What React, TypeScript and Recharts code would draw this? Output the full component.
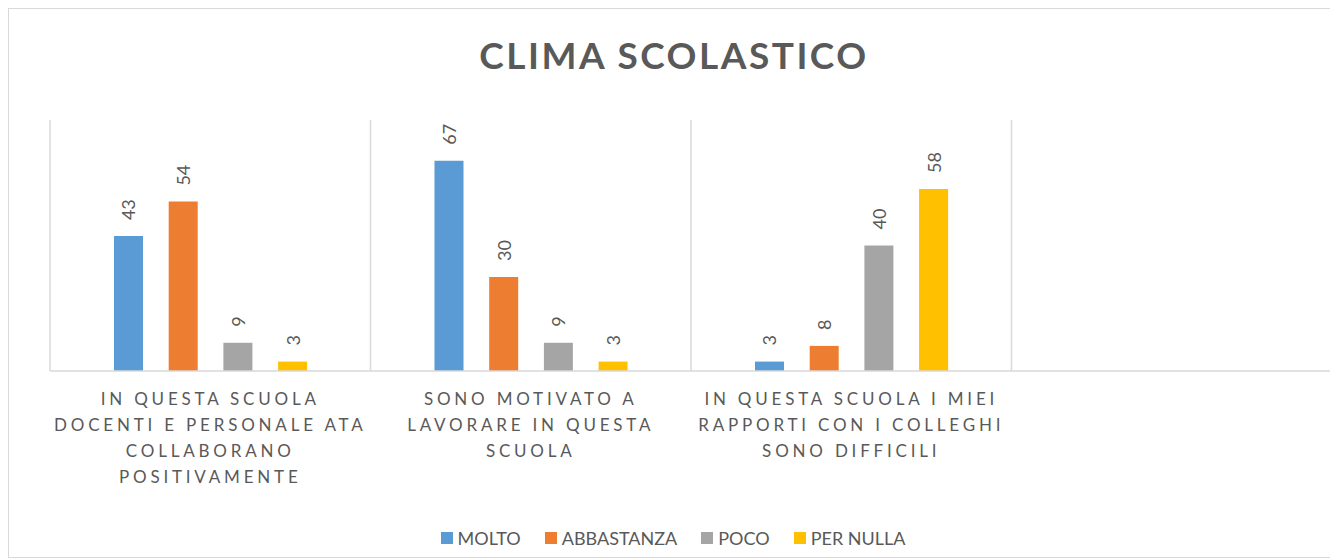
import React from "react";
import { BarChart, Bar, XAxis, YAxis, CartesianGrid, Legend, LabelList } from "recharts";

const categories = ["C1", "C2", "C3", "C4"];
const categoryLines: string[][] = [
  ["IN QUESTA SCUOLA", "DOCENTI E PERSONALE ATA", "COLLABORANO", "POSITIVAMENTE"],
  ["SONO MOTIVATO A", "LAVORARE IN QUESTA", "SCUOLA"],
  ["IN QUESTA SCUOLA I MIEI", "RAPPORTI CON I COLLEGHI", "SONO DIFFICILI"],
  [],
];
const molto: (number | null)[] = [43, 67, 3, null];
const abbastanza: (number | null)[] = [54, 30, 8, null];
const poco: (number | null)[] = [9, 9, 40, null];
const perNulla: (number | null)[] = [3, 3, 58, null];

const seriesNames = ["MOLTO", "ABBASTANZA", "POCO", "PER NULLA"];
const seriesKeys = ["molto", "abbastanza", "poco", "perNulla"];
const seriesColors = ["#5B9BD5", "#ED7D31", "#A5A5A5", "#FFC000"];

const data = categories.map((c, i) => ({
  name: c,
  molto: molto[i],
  abbastanza: abbastanza[i],
  poco: poco[i],
  perNulla: perNulla[i],
}));

const FONT = "Lato, 'Open Sans', sans-serif";
const TEXT = "#595959";

const CategoryTick = (props: any) => {
  const { x, y, payload } = props;
  const idx = categories.indexOf(payload.value);
  const lines = categoryLines[idx] || [];
  return (
    <g>
      {lines.map((l, i) => (
        <text
          key={i}
          x={x}
          y={y}
          dy={28 + i * 26}
          textAnchor="middle"
          fill={TEXT}
          fontSize={17}
          fontFamily={FONT}
          letterSpacing={3.8}
        >
          {l}
        </text>
      ))}
    </g>
  );
};

const ValueLabel = (props: any) => {
  const { x, y, width, value } = props;
  if (value == null) return null;
  const cx = x + width / 2;
  const sy = y - 16;
  return (
    <text
      x={cx}
      y={sy}
      transform={`rotate(-90 ${cx} ${sy})`}
      textAnchor="start"
      dominantBaseline="central"
      fill={TEXT}
      fontSize={18}
      fontFamily={FONT}
    >
      {value}
    </text>
  );
};

const LegendContent = () => (
  <div style={{ display: "flex", justifyContent: "center", alignItems: "center", fontFamily: FONT, fontSize: 18, color: TEXT }}>
    {seriesNames.map((n, i) => (
      <div key={n} style={{ display: "flex", alignItems: "center", marginLeft: i === 0 ? 0 : 24 }}>
        <span style={{ display: "inline-block", width: 12, height: 12, background: seriesColors[i], marginRight: 5 }} />
        <span>{n}</span>
      </div>
    ))}
  </div>
);

export default function App() {
  return (
    <div style={{ position: "relative", width: 1330, height: 550, boxSizing: "border-box", border: "1px solid #d9d9d9", background: "#fff" }}>
      <div
        style={{
          position: "absolute",
          top: 24,
          left: 0,
          width: 1330,
          textAlign: "center",
          fontFamily: FONT,
          fontWeight: 700,
          fontSize: 37,
          letterSpacing: 2.5,
          color: TEXT,
          lineHeight: "44px",
        }}
      >
        CLIMA SCOLASTICO
      </div>
      <BarChart
        width={1330}
        height={550}
        data={data}
        margin={{ top: 112, right: 6, bottom: 1, left: 42 }}
        barSize={29}
        barGap={25.7}
        style={{ position: "absolute", top: -1, left: -1 }}
      >
        <CartesianGrid
          horizontal={false}
          stroke="#d9d9d9"
          strokeWidth={1.5}
          verticalCoordinatesGenerator={({ offset }: any) =>
            categories.map((_, i) => offset.left + (i * offset.width) / categories.length).concat([offset.left + offset.width])
          }
        />
        <XAxis
          dataKey="name"
          axisLine={{ stroke: "#d9d9d9", strokeWidth: 1.5 }}
          tickLine={false}
          tickMargin={0}
          height={156}
          interval={0}
          tick={<CategoryTick />}
        />
        <YAxis hide domain={[0, 80]} />
        <Legend
          verticalAlign="bottom"
          height={30}
          content={<LegendContent />}
          wrapperStyle={{ left: 0, width: 1330 }}
        />
        {seriesKeys.map((k, i) => (
          <Bar key={k} dataKey={k} name={seriesNames[i]} fill={seriesColors[i]} isAnimationActive={false}>
            <LabelList dataKey={k} content={<ValueLabel />} />
          </Bar>
        ))}
      </BarChart>
    </div>
  );
}
